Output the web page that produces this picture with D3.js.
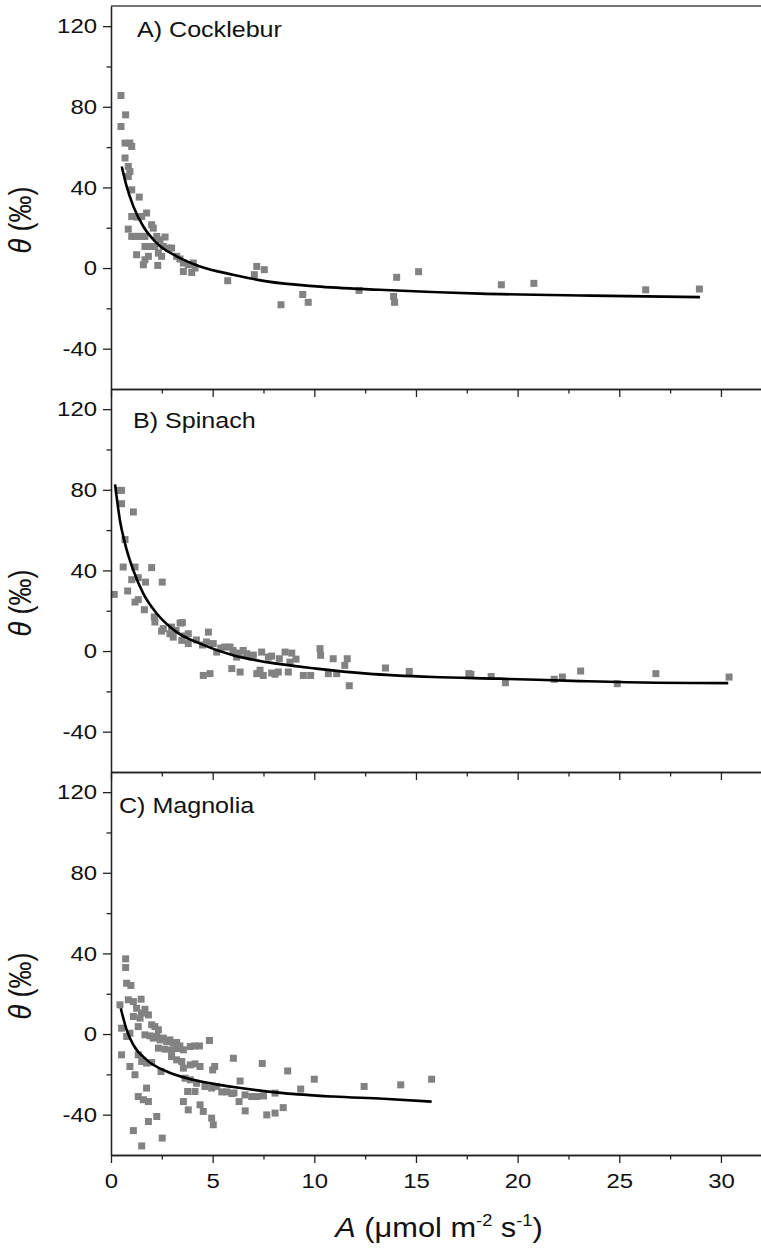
<!DOCTYPE html>
<html>
<head>
<meta charset="utf-8">
<script src="https://cdn.jsdelivr.net/npm/d3@7"></script>
<style>
    body { margin: 0; background: #fff; }
    svg { display: block; font-family: Arial, "Liberation Sans", sans-serif; }
</style>
</head>
<body>
<svg id="chart" width="761" height="1251"></svg>
<script>
// values: [A (umol m-2 s-1), theta (permil)]
const panelNames = ["A) Cocklebur", "B) Spinach", "C) Magnolia"];

const cockleburPoints = [
    [0.49, 85.6], [0.49, 70.2], [0.72, 76], [0.69, 62], [0.93, 62], [1.02, 60.3], [0.69, 54.6],
    [0.85, 50.4], [0.93, 47.9], [0.85, 45.4], [1.02, 38.8], [1.39, 35.2], [1.75, 27.3], [1.02, 25.6],
    [1.26, 25.3], [1.51, 25.6], [0.85, 19.3], [2.0, 21.5], [2.08, 19.8], [1.02, 15.7], [1.18, 15.7],
    [1.34, 15.7], [1.51, 15.7], [1.67, 15.7], [2.25, 15.7], [2.41, 14], [2.66, 15.4], [1.67, 10.7],
    [1.92, 10.7], [2.16, 10.7], [2.57, 10.7], [2.82, 9.9], [2.98, 9.9], [1.26, 6.6], [1.84, 5.8],
    [1.67, 4.1], [2.33, 7.4], [2.49, 5.8], [1.59, 1.6], [2.3, 1.3], [3.23, 5.8], [3.39, 4.5],
    [3.56, 2.5], [3.8, 1.6], [4.05, 2.5], [4.13, 0], [3.56, -1.7], [3.97, -2.2], [5.74, -6.3],
    [7.17, 0.8], [7.05, -3.3], [7.54, -0.8], [8.36, -18.2], [9.43, -13.1], [9.7, -17], [12.2, -11.1],
    [14.05, -4.6], [13.9, -14.1], [13.95, -17], [15.13, -1.8], [19.2, -8.3], [20.8, -7.6],
    [26.3, -10.8], [28.94, -10.4]
];
const cockleburFit = [
    [0.53, 50.4], [0.77, 40.5], [1.1, 30.6], [1.59, 20.6], [2.25, 12.4], [3.23, 5.8], [4.38, 0.8],
    [6.0, -3.3], [7.66, -6.6], [10.1, -9.1], [13.2, -10.8], [18.15, -12.7], [23.6, -13.7], [28.97, -14.4]
];

const spinachPoints = [
    [0.36, 79.7], [0.52, 79.7], [0.52, 73.1], [1.1, 69], [0.69, 55.3], [0.6, 41.7], [1.18, 41.7],
    [2.0, 41.4], [1.02, 35.4], [1.34, 36.4], [1.7, 34.2], [2.52, 34.2], [0.16, 28.1], [0.82, 29.8],
    [1.18, 24.3], [1.34, 25.5], [1.64, 20.5], [2.13, 16.9], [2.16, 14.4], [3.51, 14.1], [3.4, 13.9],
    [2.57, 11.1], [2.98, 11.9], [2.49, 9.9], [2.9, 8.6], [3.06, 6.9], [3.48, 5.3], [3.8, 3.7],
    [3.8, 8.6], [4.79, 9.4], [4.54, -12.1], [4.87, -11.2], [4.7, 4.5], [5.03, 3.7], [5.2, -0.5],
    [5.6, 2], [5.85, 2], [6.0, 0.3], [5.94, -8.7], [6.35, -10.4], [6.18, -3], [6.5, 0.3], [6.67, -1.3],
    [6.92, -3], [7.17, -11.2], [7.33, -9.5], [7.49, -12.1], [7.41, -0.5], [7.74, -3], [7.9, -10.9],
    [8.07, -11.5], [8.23, -10.4], [8.28, -3.8], [8.56, -0.5], [8.89, -1], [8.8, -5.5], [8.72, -10.4],
    [9.46, -12.1], [9.82, -12.1], [10.28, 1.2], [10.31, -2.1], [10.69, -11.2], [11.1, -11.2],
    [10.93, -3.8], [11.5, -7.1], [11.62, -3.8], [11.72, -17.2], [13.5, -8.4], [14.67, -10.1],
    [17.6, -11.2], [17.7, -11.6], [18.7, -12.6], [19.4, -15.7], [21.8, -14], [22.2, -12.9],
    [23.1, -9.9], [24.9, -16.2], [26.8, -11.2], [30.4, -12.9],
    [3.2, 10.2], [3.6, 7.5], [4.2, 5.5], [4.5, 3], [5.4, 1.5], [6.3, -1], [7.0, -2], [7.9, -2.5], [9.1, -4]
];
const spinachFit = [
    [0.2, 82.7], [0.44, 64.8], [0.69, 53.3], [1.1, 40], [1.59, 28.5], [2.25, 18.6], [3.23, 9.4],
    [4.38, 3.7], [6.0, -2.1], [7.66, -5.5], [10.1, -8.7], [12.6, -11.2], [15.85, -12.9],
    [19.1, -13.7], [23.07, -14.9], [26.8, -15.7], [30.36, -15.9]
];

const magnoliaPoints = [
    [0.72, 37.3], [0.72, 33], [0.77, 25.2], [0.98, 24.1], [0.44, 14.5], [0.85, 17], [1.1, 16.1],
    [1.48, 17.3], [1.26, 12.8], [1.67, 12.3], [1.5, 10.4], [1.1, 8.7], [1.43, 7.9], [1.84, 9.5],
    [0.52, 2.9], [1.34, 3.7], [0.93, 0.4], [0.77, -1.2], [2.0, 4.6], [2.16, 3.7], [2.33, 2.1],
    [1.67, -0.4], [1.92, -0.9], [2.08, -2], [2.25, -1.2], [2.41, -2.9], [2.57, -2], [2.74, -3.7],
    [2.9, -2.9], [3.06, -4.5], [3.23, -4.2], [3.39, -5.9], [2.33, -7], [2.66, -7.5], [2.98, -8],
    [3.23, -7.2], [3.56, -7.8], [3.9, -6.2], [4.1, -5.9], [4.35, -5.9], [4.84, -3.2], [2.98, -11.2],
    [3.23, -12.8], [3.48, -13.6], [0.52, -10.3], [0.93, -16.1], [1.18, -20.2], [1.34, -10.3],
    [1.51, -13.6], [1.75, -14.4], [2.0, -14.1], [2.46, -18.6], [3.56, -16.9], [3.9, -15.3],
    [4.13, -14.8], [4.38, -16.1], [5.1, -16.1], [5.0, -17.8], [3.64, -21.9], [3.9, -22.7],
    [4.21, -24.4], [4.62, -26], [4.95, -26.8], [5.2, -26], [6.02, -12], [6.35, -23.3], [1.75, -26.8],
    [1.34, -31], [1.59, -32.6], [1.84, -33.5], [3.77, -28.5], [4.13, -28.5], [3.56, -33.5],
    [3.8, -37.6], [4.38, -35.1], [4.54, -38.4], [4.95, -41.7], [5.03, -45], [1.84, -43.4],
    [2.25, -40.9], [1.1, -47.9], [2.52, -51.6], [1.51, -55.5], [6.6, -38.1], [7.44, -14.6],
    [8.69, -18.3], [9.33, -27.3], [10.0, -22.4], [12.45, -26], [14.25, -25.2], [15.77, -22.4],
    [6.05, -29.2], [6.3, -33.5], [6.59, -30.2], [6.92, -31], [7.17, -31], [7.5, -30.7], [8.07, -29.3],
    [7.66, -40.1], [8.07, -39.2], [8.47, -36.5], [5.45, -28.7], [5.7, -28.7], [5.95, -29.5]
];
const magnoliaFit = [
    [0.48, 12.8], [0.77, 2.1], [1.1, -5.4], [1.75, -12.8], [2.74, -18.6], [4.05, -22.7],
    [6.02, -26.3], [8.48, -29.3], [10.93, -31], [13.4, -32.1], [15.77, -33.5]
];

const xMajor = [0, 5, 10, 15, 20, 25, 30];
const xMinor = [2.5, 7.5, 12.5, 17.5, 22.5, 27.5];
const yMajor = [-40, 0, 40, 80, 120];
const yMinor = [-20, 20, 60, 100];

// layout
const left = 111, firstTop = 6, panelHeight = 383;
const stretch = 1.14;   // the source figure is a bit wider than tall
const titlePos = [[137, 30.5], [133, 39], [119, 41]];

const svg = d3.select("#chart");
const x = d3.scaleLinear().domain([0, 32]).range([left, 761.6]);

const panels = [
    {name: panelNames[0], points: cockleburPoints, fit: cockleburFit},
    {name: panelNames[1], points: spinachPoints, fit: spinachFit},
    {name: panelNames[2], points: magnoliaPoints, fit: magnoliaFit}
];

const styleAxis = g => {
    g.selectAll("path, line").attr("stroke", "#222").attr("stroke-width", 1.3);
    g.selectAll("text").attr("fill", "#111").style("font-size", "21px")
        .style("font-family", "Arial, 'Liberation Sans', sans-serif");
};

panels.forEach((p, i) => {
    const top = firstTop + i * panelHeight;
    const bottom = top + panelHeight;
    const y = d3.scaleLinear().domain([-60, 130]).range([bottom, top]);
    const g = svg.append("g");

    g.append("g")
        .selectAll("rect")
        .data(p.points)
        .join("rect")
        .attr("x", d => x(d[0]) - 3.5)
        .attr("y", d => y(d[1]) - 3.5)
        .attr("width", 7)
        .attr("height", 7)
        .attr("fill", "#828282");

    g.append("path")
        .datum(p.fit)
        .attr("d", d3.line().x(d => x(d[0])).y(d => y(d[1])).curve(d3.curveMonotoneX))
        .attr("fill", "none")
        .attr("stroke", "#000")
        .attr("stroke-width", 2.6);

    // left axis
    g.append("g").attr("transform", `translate(${left},0)`)
        .call(d3.axisLeft(y).tickValues(yMinor).tickSize(4.5).tickSizeOuter(0).tickFormat(""))
        .call(styleAxis);
    g.append("g").attr("transform", `translate(${left},0)`)
        .call(d3.axisLeft(y).tickValues(yMajor).tickSize(8).tickSizeOuter(0).tickFormat(d => String(d)))
        .call(styleAxis)
        .call(a => a.selectAll("text").attr("x", null)
            .attr("transform", `translate(-14,0) scale(${stretch},1)`));

    // bottom axis, ticks point down into the next panel
    g.append("g").attr("transform", `translate(0,${bottom})`)
        .call(d3.axisBottom(x).tickValues(xMinor).tickSize(4.5).tickSizeOuter(0).tickFormat(""))
        .call(styleAxis);
    g.append("g").attr("transform", `translate(0,${bottom})`)
        .call(d3.axisBottom(x).tickValues(xMajor).tickSize(8).tickSizeOuter(0).tickPadding(10)
            .tickFormat(i === panels.length - 1 ? d => String(d) : ""))
        .call(styleAxis)
        .call(a => a.selectAll("text").attr("transform", `scale(${stretch},1)`));

    // panel title
    g.append("text")
        .attr("transform", `translate(${titlePos[i][0]},${top + titlePos[i][1]}) scale(${stretch},1)`)
        .style("font-size", "22px")
        .attr("fill", "#111")
        .text(p.name);

    // y title
    const yt = g.append("text")
        .attr("transform", `translate(31,${top + 214}) rotate(-90) scale(1,${stretch})`)
        .attr("text-anchor", "middle")
        .style("font-size", "27px")
        .attr("fill", "#111");
    yt.append("tspan").style("font-style", "italic").text("θ");
    yt.append("tspan").text(" (‰)");
});

// frame top
svg.append("line")
    .attr("x1", left).attr("x2", 761)
    .attr("y1", firstTop).attr("y2", firstTop)
    .attr("stroke", "#444").attr("stroke-width", 1.5);

// x title
const xt = svg.append("text")
    .attr("transform", `translate(439,1237) scale(${stretch},1)`)
    .attr("text-anchor", "middle")
    .style("font-size", "27px")
    .attr("fill", "#111");
xt.append("tspan").style("font-style", "italic").text("A");
xt.append("tspan").text(" (μmol m");
xt.append("tspan").attr("dy", -11).style("font-size", "16px").text("-2");
xt.append("tspan").attr("dy", 11).text(" s");
xt.append("tspan").attr("dy", -11).style("font-size", "16px").text("-1");
xt.append("tspan").attr("dy", 11).text(")");
</script>
</body>
</html>
